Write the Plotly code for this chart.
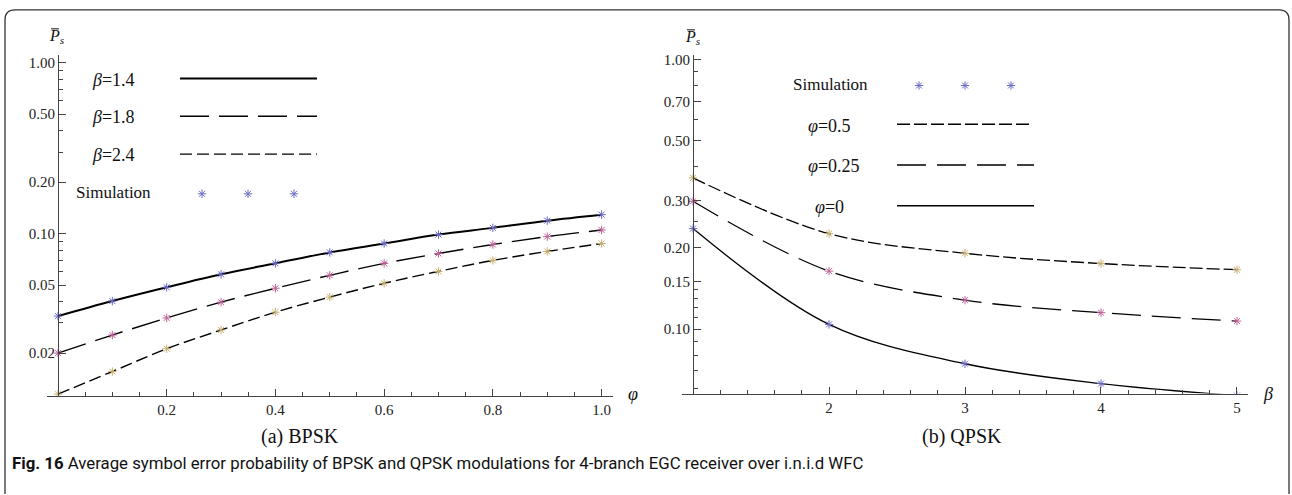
import plotly.graph_objects as go

# ---------------- data ----------------
phi = [0.0, 0.1, 0.2, 0.3, 0.4, 0.5, 0.6, 0.7, 0.8, 0.9, 1.0]
ps_beta14 = [0.0329, 0.0403, 0.0485, 0.0578, 0.0670, 0.0776, 0.0875, 0.0987, 0.108, 0.119, 0.129]
ps_beta18 = [0.0200, 0.0255, 0.0321, 0.0397, 0.0479, 0.0570, 0.0670, 0.0765, 0.0863, 0.0960, 0.105]
ps_beta24 = [0.0115, 0.0156, 0.0212, 0.0273, 0.0347, 0.0425, 0.0512, 0.0601, 0.0697, 0.0786, 0.0875]

beta = [1, 2, 3, 4, 5]
ps_phi0 = [0.236, 0.104, 0.0743, 0.0627, 0.0566]
ps_phi025 = [0.298, 0.164, 0.128, 0.115, 0.107]
ps_phi05 = [0.364, 0.226, 0.191, 0.175, 0.166]

left_yticks = [0.02, 0.05, 0.1, 0.2, 0.5, 1.0]
left_yticktext = ["0.02", "0.05", "0.10", "0.20", "0.50", "1.00"]
left_yminor = [0.03, 0.04, 0.06, 0.07, 0.08, 0.09, 0.3, 0.4, 0.6, 0.7, 0.8, 0.9]
left_xticks = [0.2, 0.4, 0.6, 0.8, 1.0]
left_xticktext = ["0.2", "0.4", "0.6", "0.8", "1.0"]
left_xminor = [0.05, 0.1, 0.15, 0.25, 0.3, 0.35, 0.45, 0.5, 0.55, 0.65, 0.7, 0.75, 0.85, 0.9, 0.95]

right_yticks = [0.1, 0.15, 0.2, 0.3, 0.5, 0.7, 1.0]
right_yticktext = ["0.10", "0.15", "0.20", "0.30", "0.50", "0.70", "1.00"]
right_yminor = [0.06, 0.07, 0.08, 0.09, 0.11, 0.12, 0.13, 0.14, 0.25, 0.4, 0.6, 0.8, 0.9]
right_xticks = [2, 3, 4, 5]
right_xminor = [1.2, 1.4, 1.6, 1.8, 2.2, 2.4, 2.6, 2.8, 3.2, 3.4, 3.6, 3.8, 4.2, 4.4, 4.6, 4.8]

W, H = 1292, 495
SERIF = "Liberation Serif, Times New Roman, Times, serif"
AX = "#444444"
C_BLUE = "#6a6ac8"
C_PINK = "#c0609a"
C_GOLD = "#c8b070"

DASH_LONG = "29px,10px"
DASH_SHORT = "12px,5px"
DASH_R05 = "13px,4px"
DASH_R025 = "29px,11px"

fig = go.Figure()

def star_marker(c):
    return dict(symbol="asterisk-open", size=7, color=c, line=dict(color=c, width=1))

# ---------------- left panel ----------------
for y, dash, w in [(ps_beta14, "solid", 2.0), (ps_beta18, DASH_LONG, 1.4), (ps_beta24, DASH_SHORT, 1.4)]:
    fig.add_trace(go.Scatter(x=phi, y=y, mode="lines", line=dict(color="black", width=w, dash=dash, shape="spline"),
                             xaxis="x", yaxis="y", showlegend=False, hoverinfo="skip"))
for y, c in [(ps_beta14, C_BLUE), (ps_beta18, C_PINK), (ps_beta24, C_GOLD)]:
    fig.add_trace(go.Scatter(x=phi, y=y, mode="markers", marker=star_marker(c),
                             xaxis="x", yaxis="y", showlegend=False, hoverinfo="skip"))

# ---------------- right panel ----------------
for y, dash, w in [(ps_phi0, "solid", 1.3), (ps_phi025, DASH_R025, 1.3), (ps_phi05, DASH_R05, 1.3)]:
    fig.add_trace(go.Scatter(x=beta, y=y, mode="lines", line=dict(color="black", width=w, dash=dash, shape="spline"),
                             xaxis="x2", yaxis="y2", showlegend=False, hoverinfo="skip"))
for y, c in [(ps_phi0, C_BLUE), (ps_phi025, C_PINK), (ps_phi05, C_GOLD)]:
    fig.add_trace(go.Scatter(x=beta, y=y, mode="markers", marker=star_marker(c),
                             xaxis="x2", yaxis="y2", showlegend=False, hoverinfo="skip"))

# ---------------- legend samples (overlay pixel axis x3/y3) ----------------
def legline(x0, x1, y, dash, w):
    fig.add_trace(go.Scatter(x=[x0, x1], y=[y, y], mode="lines", line=dict(color="black", width=w, dash=dash),
                             xaxis="x3", yaxis="y3", showlegend=False, hoverinfo="skip"))

def legstars(xs, y):
    fig.add_trace(go.Scatter(x=xs, y=[y] * len(xs), mode="markers", marker=star_marker(C_BLUE),
                             xaxis="x3", yaxis="y3", showlegend=False, hoverinfo="skip"))

legline(180, 317, 76, "solid", 2.0)
legline(180, 317, 114, DASH_LONG, 1.4)
legline(180, 317, 152, DASH_SHORT, 1.4)
legstars([202, 248, 294], 192)

legstars([919, 965, 1011], 83)
legline(897, 1029, 122, DASH_R05, 1.3)
legline(897, 1034, 163, DASH_R025, 1.3)
legline(897, 1034, 204, "solid", 1.3)

annotations = []
def txt(x, y, s, size=17, xanchor="center", family=SERIF, color="#111"):
    annotations.append(dict(x=x, y=y, xref="x3", yref="y3", text=s, showarrow=False, xanchor=xanchor,
                            yanchor="middle", font=dict(family=family, size=size, color=color)))

txt(113, 77, "<i>β</i>=1.4", size=18)
txt(113, 115, "<i>β</i>=1.8", size=18)
txt(113, 153, "<i>β</i>=2.4", size=18)
txt(113, 191, "Simulation")

txt(830, 82, "Simulation")
txt(829, 124, "<i>φ</i>=0.5", size=18)
txt(834, 164, "<i>φ</i>=0.25", size=18)
txt(829, 205, "<i>φ</i>=0", size=18)

# axis labels
txt(57, 34, "<i>P</i><sub><i>s</i></sub>", size=16)
txt(693, 35, "<i>P</i><sub><i>s</i></sub>", size=16)
txt(633, 393, "<i>φ</i>", size=18)
txt(1268, 393, "<i>β</i>", size=18)

# subtitles
txt(300, 436, "(a) BPSK", size=20)
txt(962, 436, "(b) QPSK", size=20)

# caption
txt(10, 463, "<b>Fig. 16</b> Average symbol error probability of BPSK and QPSK modulations for 4-branch EGC receiver over i.n.i.d WFC",
    size=16.8, xanchor="left", family="Roboto", color="#111")

shapes = [
    # overlines on P
    dict(type="line", xref="x3", yref="y3", x0=51, x1=59, y0=26, y1=26, line=dict(color="#111", width=1)),
    dict(type="line", xref="x3", yref="y3", x0=687, x1=695, y0=27, y1=27, line=dict(color="#111", width=1)),
    # rounded frame
    dict(type="path", xref="x3", yref="y3", path="M 5,494 L 5,17 Q 5,7 15,7 L 1279,7 Q 1289,7 1289,17 L 1289,494",
         line=dict(color="#333", width=1.3)),
]

def ydom(top_px, bot_px):
    return [1 - bot_px / H, 1 - top_px / H]

axis_common = dict(showline=True, linecolor=AX, linewidth=1, ticks="inside", ticklen=7, tickwidth=1, tickcolor=AX,
                   showgrid=False, zeroline=False, tickfont=dict(family=SERIF, size=15, color="#222"))

fig.update_layout(
    width=W, height=H, margin=dict(l=0, r=0, t=0, b=0),
    paper_bgcolor="white", plot_bgcolor="rgba(0,0,0,0)",
    font=dict(family=SERIF),
    xaxis=dict(domain=[47 / W, 613 / W], range=[-0.0202, 1.021], anchor="y",
               tickvals=left_xticks, ticktext=left_xticktext,
               minor=dict(tickvals=left_xminor, ticks="inside", ticklen=4, tickcolor=AX, tickwidth=1), **axis_common),
    yaxis=dict(type="log", domain=ydom(52, 395), range=[-1.9477, 0.0465], anchor="free", position=58 / W,
               tickvals=left_yticks, ticktext=left_yticktext,
               minor=dict(tickvals=left_yminor, ticks="inside", ticklen=4, tickcolor=AX, tickwidth=1), **axis_common),
    xaxis2=dict(domain=[682 / W, 1248 / W], range=[0.919, 5.081], anchor="y2",
                tickvals=right_xticks, ticktext=[str(v) for v in right_xticks],
                minor=dict(tickvals=right_xminor, ticks="inside", ticklen=4, tickcolor=AX, tickwidth=1), **axis_common),
    yaxis2=dict(type="log", domain=ydom(52, 393), range=[-1.2399, 0.01845], anchor="free", position=693 / W,
                tickvals=right_yticks, ticktext=right_yticktext,
                minor=dict(tickvals=right_yminor, ticks="inside", ticklen=4, tickcolor=AX, tickwidth=1), **axis_common),
    xaxis3=dict(domain=[0, 1], range=[0, W], visible=False, anchor="y3", fixedrange=True),
    yaxis3=dict(domain=[0, 1], range=[H, 0], visible=False, anchor="x3", fixedrange=True),
    annotations=annotations, shapes=shapes,
)

fig.write_html("out.html")
